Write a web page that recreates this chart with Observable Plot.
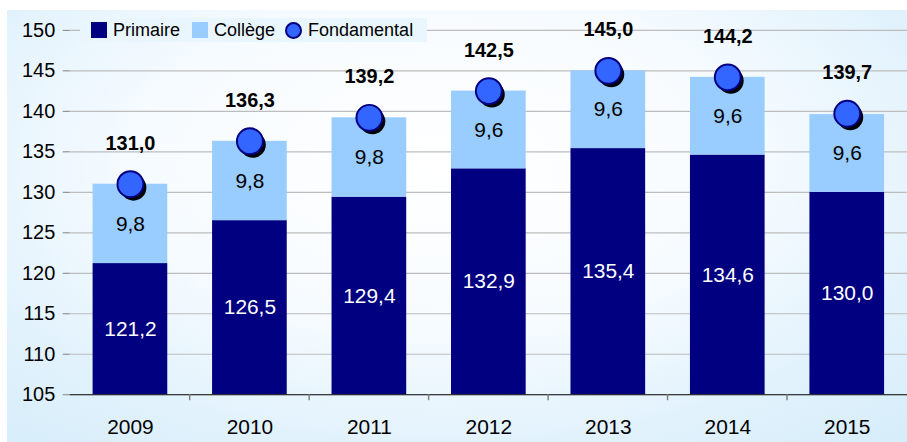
<!DOCTYPE html>
<html><head><meta charset="utf-8">
<script src="https://cdn.jsdelivr.net/npm/d3@7"></script>
<script src="https://cdn.jsdelivr.net/npm/@observablehq/plot@0.6"></script>
<style>
html,body{margin:0;padding:0;overflow:hidden;background:#fff;}
#wrap{position:relative;width:907px;height:442px;overflow:hidden;font-family:"Liberation Sans",Arial,sans-serif;}
#panel{position:absolute;left:7px;top:10px;width:910px;height:440px;
 background:radial-gradient(ellipse 75% 85% at 48% 35%, #ffffff 0%, #f6fbff 45%, #e2f2fc 75%, #d6edfa 100%);}
#chart{position:absolute;left:0;top:0;}
#legend{position:absolute;left:80px;top:18px;height:24px;width:347px;background:#eaf6fd;display:flex;align-items:center;font-size:18px;color:#000;}
.it{display:flex;align-items:center;margin-left:11px;margin-right:4px;}
.sq{width:16px;height:16px;margin-right:6px;}
.ci{width:13px;height:13px;border-radius:50%;background:#3366ff;border:2px solid #000080;margin-right:6px;}
</style></head>
<body><div id="wrap"><div id="panel"></div><div id="chart"></div>
<div id="legend">
 <div class="it"><div class="sq" style="background:#000080"></div>Primaire</div>
 <div class="it" style="margin-left:8px"><div class="sq" style="background:#99ccff"></div>Collège</div>
 <div class="it" style="margin-left:6px"><div class="ci"></div>Fondamental</div>
</div></div>
<script>
const years = ["2009","2010","2011","2012","2013","2014","2015"];
const primaire = [121.2,126.5,129.4,132.9,135.4,134.6,130.0];
const college = [9.8,9.8,9.8,9.6,9.6,9.6,9.6];
const fondamental = [131.0,136.3,139.2,142.5,145.0,144.2,139.7];
const yTicks = [105,110,115,120,125,130,135,140,145,150];

const fmt = v => d3.format(".1f")(v).replace(".", ",");
const segs = years.flatMap((y,i)=>[
  {year:y, s:"Primaire", y1:105, y2:primaire[i], v:primaire[i]},
  {year:y, s:"Collège", y1:primaire[i], y2:primaire[i]+college[i], v:college[i]}
]);
const pts = years.map((y,i)=>({year:y, v:fondamental[i]}));

const plot = Plot.plot({
  width: 911, height: 442,
  marginLeft: 70, marginRight: 0, marginTop: 30, marginBottom: 46,
  style:{background:"transparent", fontFamily:"'Liberation Sans', Arial, sans-serif", fontSize:"20px", overflow:"visible"},
  x:{domain:years, paddingInner:0.375, paddingOuter:0.1875, label:null},
  y:{domain:[105,150], label:null},
  marks:[
    Plot.gridY(yTicks.filter(t=>t>105), {stroke:"#bdbdbd", strokeOpacity:1, strokeWidth:1.2}),
    Plot.rectY(segs, {x:"year", y1:"y1", y2:"y2", fill:d=>d.s==="Primaire"?"#000080":"#99ccff"}),
    Plot.text(segs, {x:"year", y:d=>(d.y1+d.y2)/2, text:d=>fmt(d.v), fill:d=>d.s==="Primaire"?"#ffffff":"#000000", fontSize:21}),
    Plot.dot(pts, {x:"year", y:"v", r:13, fill:"#000000", dx:3, dy:3.5}),
    Plot.dot(pts, {x:"year", y:"v", r:13, fill:"#3366ff", stroke:"#000080", strokeWidth:2}),
    Plot.text(pts, {x:"year", y:"v", text:d=>fmt(d.v), dy:-41, fontWeight:"bold", fontSize:20, fill:"#000"}),
    Plot.axisY(yTicks, {tickSize:7, tickPadding:8, fontSize:20, stroke:"#808080", fill:"#000", label:null}),
    Plot.ruleX([0], {frameAnchor:"left", stroke:"#808080", strokeWidth:1.5}),
    Plot.ruleY([105], {stroke:"#000", strokeWidth:1.2}),
    Plot.axisX({tickSize:0, tickPadding:24, fontSize:21, fill:"#000", label:null})
  ]
});
document.getElementById("chart").appendChild(plot);
// band-boundary tick marks on the x axis
const xs = plot.scale("x");
const ys = plot.scale("y");
const svg = d3.select(plot);
const step = xs.step;
years.forEach(y=>{
  const bx = xs.apply(y) - xs.paddingInner*step/2;
  if (bx > 72) svg.append("line").attr("x1",bx).attr("x2",bx).attr("y1",ys.apply(105)).attr("y2",ys.apply(105)+6).attr("stroke","#808080").attr("stroke-width",1.5);
});
</script></body></html>
